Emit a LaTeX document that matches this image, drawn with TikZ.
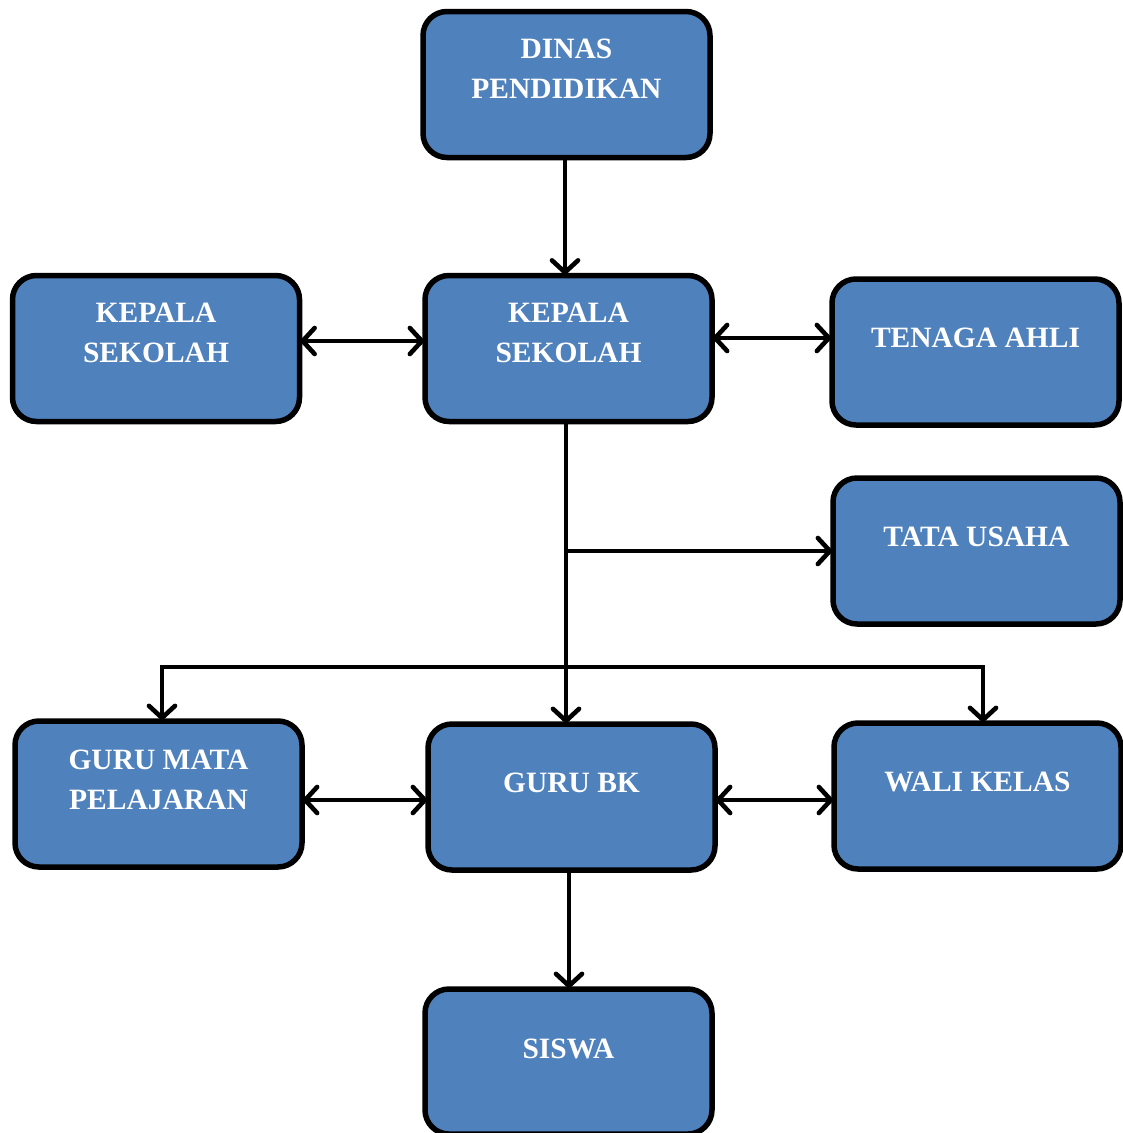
\documentclass[tikz,border=0pt]{standalone}
\usepackage{fontspec}
\setmainfont{Liberation Serif}
\usetikzlibrary{arrows.meta,calc}
\definecolor{boxblue}{HTML}{4F81BD}
\begin{document}
\begin{tikzpicture}[x=1pt,y=-1pt,
  box/.style={draw=black, line width=5.5pt, fill=boxblue, rounded corners=24pt,
    minimum width=287pt, minimum height=146pt, inner sep=0pt, outer sep=0pt},
  lbl/.style={text=white, font=\bfseries\fontsize{29.5}{40}\selectfont, align=center, inner sep=0pt},
  conn/.style={line width=4.6pt, draw=black},
  >={Straight Barb[length=12pt,width=26pt,line cap=round]}]
\useasboundingbox (0,0) rectangle (1123,1133);
% boxes
\node[box] (dinas)  at (566.5,84.5) {};
\node[box] (ksL)    at (156,348.5) {};
\node[box] (ksC)    at (568.5,348.5) {};
\node[box] (tenaga) at (975.5,352) {};
\node[box] (tata)   at (976.5,551) {};
\node[box] (gmp)    at (158.5,794) {};
\node[box] (gbk)    at (571.5,797) {};
\node[box] (wali)   at (977.5,796) {};
\node[box, minimum height=145pt] (siswa) at (568.5,1061.5) {};
% labels
\node[lbl] (tdinas)  at ([yshift=-57pt]dinas.north)  {DINAS\\PENDIDIKAN};
\node[lbl] (tksL)    at ([yshift=-57pt]ksL.north)    {KEPALA\\SEKOLAH};
\node[lbl] (tksC)    at ([yshift=-57pt]ksC.north)    {KEPALA\\SEKOLAH};
\node[lbl] (ttenaga) at ([yshift=-59pt]tenaga.north) {TENAGA AHLI};
\node[lbl] (ttata)   at ([yshift=-59pt]tata.north)   {TATA USAHA};
\node[lbl] (tgmp)    at ([yshift=-59pt]gmp.north)    {GURU MATA\\PELAJARAN};
\node[lbl] (tgbk)    at ([yshift=-59pt]gbk.north)    {GURU BK};
\node[lbl] (twali)   at ([yshift=-59pt]wali.north)   {WALI KELAS};
\node[lbl] (tsiswa)  at ([yshift=-60pt]siswa.north)  {SISWA};
% helper coordinates
\coordinate (y341) at (0,341);
\coordinate (y338) at (0,338);
\coordinate (y800) at (0,800);
\coordinate (bl) at (162,667);
\coordinate (br) at (983,667);
% connectors
\draw[conn,->] (dinas.south -| 565,0) -- (ksC.north -| 565,0);
\draw[conn,<->] (ksL.east |- y341) -- (ksC.west |- y341);
\draw[conn,<->] (ksC.east |- y338) -- (tenaga.west |- y338);
\draw[conn,->] (ksC.south -| 566,0) -- (gbk.north -| 566,0);
\draw[conn,->] (tata.west -| 566,0) -- (tata.west);
\draw[conn,<->] (bl |- gmp.north) -- (bl) -- (br) -- (br |- wali.north);
\draw[conn,<->] (gmp.east |- y800) -- (gbk.west |- y800);
\draw[conn,<->] (gbk.east |- y800) -- (wali.west |- y800);
\draw[conn,->] (gbk.south -| 569,0) -- (siswa.north -| 569,0);
\end{tikzpicture}
\end{document}
